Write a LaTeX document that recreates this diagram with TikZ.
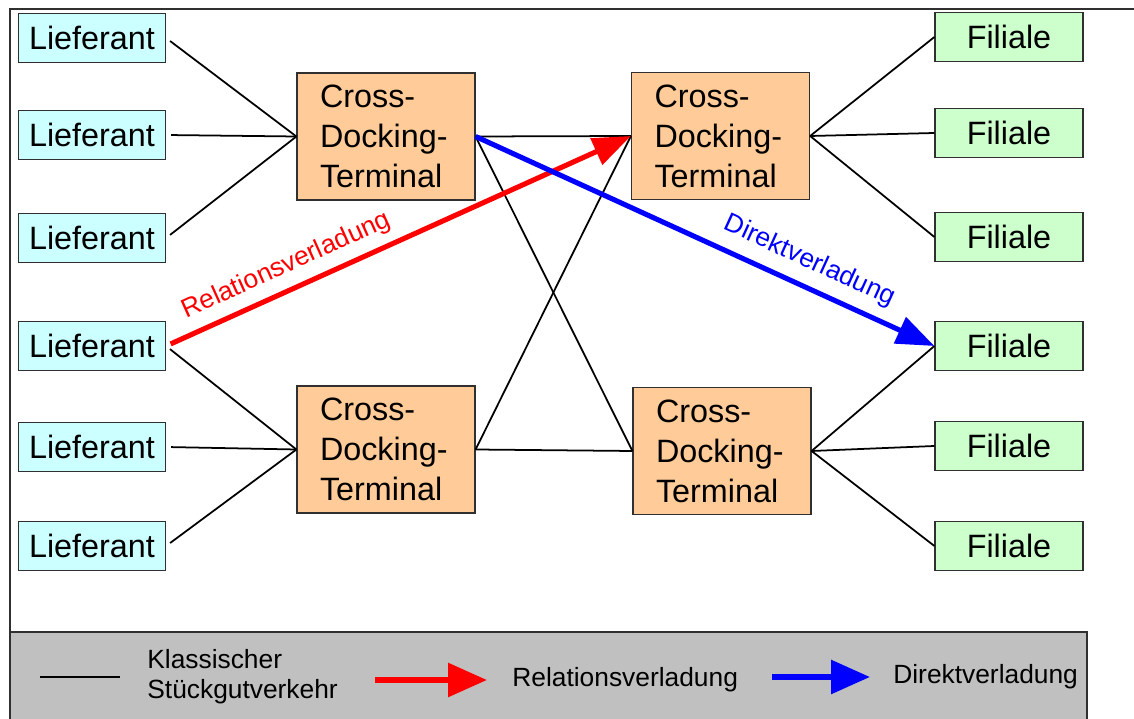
\documentclass[tikz,border=0pt]{standalone}
\usepackage{fontspec}
\setmainfont{Liberation Sans}
\usetikzlibrary{arrows.meta,positioning}
\definecolor{supplierfill}{HTML}{CCFFFF}
\definecolor{branchfill}{HTML}{CCFFCC}
\definecolor{terminalfill}{HTML}{FFCC99}
\definecolor{legendfill}{HTML}{C0C0C0}
\definecolor{framegray}{HTML}{303030}
\definecolor{relationred}{HTML}{FF0000}
\definecolor{directblue}{HTML}{0000FF}
\tikzset{
  supplier/.style={
    draw=framegray,
    fill=supplierfill,
    line width=0.7pt,
    minimum width=2.94cm,
    minimum height=0.98cm,
    inner sep=0pt,
    font=\fontsize{18.4}{22}\selectfont,
  },
  branch/.style={
    supplier,
    fill=branchfill,
    minimum width=2.96cm,
  },
  terminal/.style={
    draw=framegray,
    fill=terminalfill,
    line width=0.7pt,
    text width=2.64cm,
    inner xsep=0.46cm,
    minimum height=2.54cm,
    align=left,
    font=\fontsize{18.4}{22.7}\selectfont,
  },
  flow/.style={
    line width=1pt,
    draw=black,
  },
  relation/.style={
    -{Triangle[length=0.76cm,width=0.56cm]},
    line width=2.9pt,
    draw=relationred,
  },
  direct/.style={
    relation,
    draw=directblue,
  },
  route label/.style={
    sloped,
    inner sep=1pt,
    font=\fontsize{15}{18}\selectfont,
  },
  legend text/.style={
    inner sep=0pt,
    align=left,
    font=\fontsize{15}{17.2}\selectfont,
  },
}
\begin{document}
\begin{tikzpicture}[x=0.02cm, y=-0.02cm]
  \useasboundingbox (0,0) rectangle (1134,719);

  % legend panel and frame
  \draw[fill=legendfill, draw=framegray, line width=0.7pt] (10,632) rectangle (1087,724);
  \draw[framegray, line width=1pt] (10,724) -- (10,9) -- (1136,9);

  % suppliers and branches
  \foreach \y [count=\i] in {38,135,238,346,447,546}
    \node[supplier] (L\i) at (92,\y) {Lieferant};
  \foreach \y [count=\i] in {37,133,237,346,446,546}
    \node[branch] (F\i) at (1009,\y) {Filiale};

  % terminals
  \node[terminal] (T1) at (386,136.5) {Cross-\\Docking-\\Terminal};
  \node[terminal] (T2) at (720.5,136) {Cross-\\Docking-\\Terminal};
  \node[terminal] (T3) at (386,449.5) {Cross-\\Docking-\\Terminal};
  \node[terminal] (T4) at (722,451) {Cross-\\Docking-\\Terminal};

  % classic connections
  \foreach \i in {1,2,3}
    \draw[flow, shorten <=1mm] (L\i.east) -- (T1.west);
  \foreach \i in {4,5,6}
    \draw[flow, shorten <=1mm] (L\i.east) -- (T3.west);
  \draw[flow] (T1.east) -- (T2.west);
  \draw[flow] (T1.east) -- (T4.west);
  \draw[flow] (T3.east) -- (T2.west);
  \draw[flow] (T3.east) -- (T4.west);
  \foreach \i in {1,2,3}
    \draw[flow] (T2.east) -- (F\i.west);
  \foreach \i in {4,5,6}
    \draw[flow] (T4.east) -- (F\i.west);

  % special routes
  \draw[relation, shorten <=1mm] (L4.east) -- (T2.west)
    node[route label, pos=0.28, above=4pt, text=relationred] (rellabel) {Relationsverladung};
  \draw[direct] (T1.east) -- (F4.west)
    node[route label, pos=0.705, above=5pt, text=directblue] (dirlabel) {Direktverladung};

  % legend
  \coordinate (kA) at (40,677);
  \coordinate (kB) at (120,677);
  \draw[flow, line width=1.3pt] (kA) -- (kB);
  \node[legend text, right=0.54cm of kB] (klass) {Klassischer\\Stückgutverkehr};

  \coordinate (rA) at (375,680);
  \coordinate (rB) at (487,680);
  \draw[relation, line width=3.4pt, -{Triangle[length=0.78cm,width=0.66cm]}] (rA) -- (rB);
  \node[legend text, right=0.5cm of rB] (rel) {Relationsverladung};

  \coordinate (bA) at (772,677);
  \coordinate (bB) at (870,677);
  \draw[direct, line width=3.4pt, -{Triangle[length=0.78cm,width=0.66cm]}] (bA) -- (bB);
  \node[legend text, right=0.46cm of bB] (dir) {Direktverladung};
\end{tikzpicture}
\end{document}
